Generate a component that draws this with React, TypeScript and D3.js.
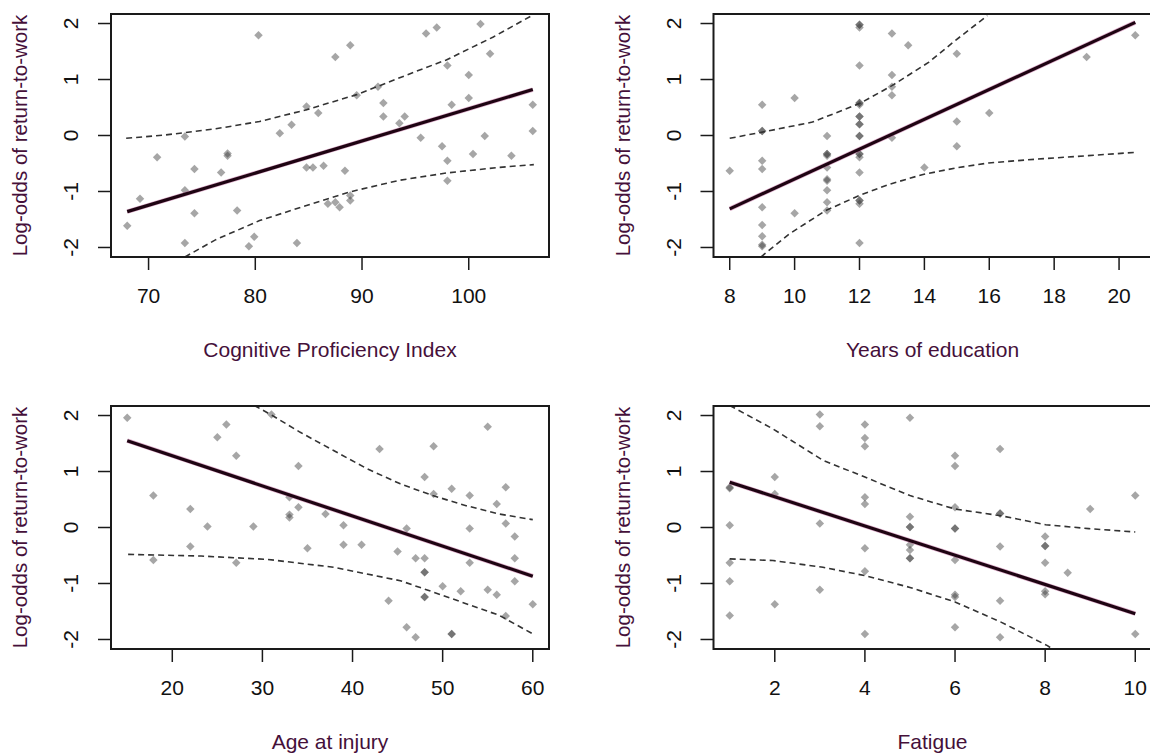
import React from 'react';
import * as d3 from 'd3';

const W = 1150;
const H = 755;
const PW = 438;
const PH = 243;
const yDomain = [-2.17, 2.17];
const yTicks = [-2, -1, 0, 1, 2];
const yTitle = 'Log-odds of return-to-work';

// panel 1: Cognitive Proficiency Index
const cpiTicks = [70, 80, 90, 100];
const cpiX = [68, 69.2, 70.8, 73.4, 73.4, 73.4, 74.3, 74.3, 76.8, 77.4, 77.4, 78.3, 80.3, 79.4, 79.9, 82.3, 83.4, 83.9,
  84.8, 84.8, 85.4, 85.9, 86.4, 86.8, 87.5, 87.9, 87.5, 88.4, 88.9, 88.9, 88.9, 89.5, 91.5, 92, 92, 93.5, 94, 95.5,
  96, 97, 97.5, 98, 98, 98, 98.4, 100, 100, 100.4, 101.1, 101.5, 102, 104, 106, 106];
const cpiY = [-1.61, -1.13, -0.39, -0.02, -0.98, -1.92, -0.6, -1.39, -0.66, -0.32, -0.36, -1.34, 1.79, -1.98, -1.81, 0.04, 0.19, -1.92,
  0.52, -0.57, -0.57, 0.4, -0.54, -1.22, -1.19, -1.28, 1.4, -0.63, 1.61, -1.16, -1.07, 0.72, 0.87, 0.58, 0.34, 0.22, 0.34, -0.04,
  1.82, 1.93, -0.19, 1.25, -0.45, -0.81, 0.55, 1.08, 0.67, -0.33, 1.99, -0.01, 1.46, -0.36, 0.55, 0.08];
const cpiFit = [[68, -1.36], [106, 0.82]];
const cpiUpper = [[67.9, -0.05], [71.6, 0.01], [76.3, 0.12], [80.4, 0.25], [84.8, 0.46], [89.5, 0.73], [95.4, 1.17],
  [97.9, 1.35], [102.3, 1.76], [105.9, 2.14]];
const cpiLower = [[73.4, -2.17], [76.3, -1.86], [80.4, -1.52], [84.8, -1.25], [88.8, -1.01], [93.5, -0.8], [97.9, -0.67],
  [102.8, -0.57], [106.1, -0.52]];

// panel 2: Years of education
const eduTicks = [8, 10, 12, 14, 16, 18, 20];
const eduX = [8, 9, 9, 9, 9, 9, 9, 9, 9, 9, 9, 10, 10, 11, 11, 11, 11, 11, 11, 11, 11, 11, 11,
  12, 12, 12, 12, 12, 12, 12, 12, 12, 12, 12, 12, 12, 12, 12, 12, 12, 12, 12, 12, 12,
  13, 13, 13, 13, 13, 13.5, 14, 15, 15, 15, 16, 19, 20.5];
const eduY = [-0.63, 0.55, 0.08, 0.08, -0.45, -0.6, -1.28, -1.6, -1.8, -1.95, -1.98, 0.67, -1.39, -0.01, -0.33, -0.33, -0.36, -0.57, -0.78, -0.81, -0.98, -1.19, -1.34,
  1.98, 1.93, 1.25, 0.58, 0.58, 0.55, 0.34, 0.34, 0.2, 0.2, -0.01, -0.01, -0.33, -0.33, -0.39, -0.66, -1.16, -1.16, -1.22, -1.92, 1.98,
  1.82, 1.08, 0.87, 0.72, -0.04, 1.61, -0.57, 1.46, 0.25, -0.19, 0.4, 1.4, 1.79];
const eduFit = [[8, -1.31], [20.5, 2.02]];
const eduUpper = [[8, -0.05], [9, 0.06], [10.55, 0.24], [12, 0.57], [13, 0.89], [14.14, 1.31], [14.96, 1.7], [15.94, 2.14]];
const eduLower = [[8.96, -2.17], [9.83, -1.76], [10.96, -1.34], [12, -1.07], [12.9, -0.875], [13.93, -0.7], [14.96, -0.58],
  [15.98, -0.49], [17.5, -0.42], [19.05, -0.36], [20.53, -0.3]];

// panel 3: Age at injury
const ageTicks = [20, 30, 40, 50, 60];
const ageX = [15, 17.9, 17.9, 22, 22, 23.9, 25, 26, 27.1, 27.1, 29, 31, 33, 33, 33, 34, 34, 35, 37, 39, 39, 41, 43, 44, 45,
  46, 46, 47, 47, 48, 48, 48, 48, 48, 48, 49, 49, 50, 51, 51, 51, 52, 53, 53, 53, 55, 55, 56, 56, 57, 57, 57, 58, 58, 58, 60];
const ageY = [1.96, 0.57, -0.58, 0.33, -0.34, 0.02, 1.61, 1.84, 1.28, -0.63, 0.02, 2.02, 0.54, 0.23, 0.18, 1.1, 0.36, -0.37, 0.24,
  0.04, -0.31, -0.31, 1.4, -1.31, -0.43, -0.02, -1.78, -0.55, -1.96, 0.9, -0.55, -0.8, -0.8, -1.24, -1.24, 1.45, 0.6, -1.05,
  0.69, -1.9, -1.9, -1.14, 0.57, -0.02, -0.63, 1.8, -1.11, 0.42, -1.2, 0.72, 0.07, -1.58, -0.16, -0.55, -0.96, -1.37];
const ageFit = [[15, 1.55], [60, -0.87]];
const ageUpper = [[29.1, 2.18], [31.1, 2.0], [34.2, 1.7], [37.9, 1.375], [41.6, 1.05], [45.3, 0.78], [48.9, 0.57], [52.6, 0.39],
  [56.3, 0.24], [60, 0.14]];
const ageLower = [[15.1, -0.48], [23.2, -0.51], [30.6, -0.57], [37.9, -0.71], [45.3, -0.95], [48.9, -1.15], [52.6, -1.36],
  [56.3, -1.57], [60, -1.9]];

// panel 4: Fatigue
const fatTicks = [2, 4, 6, 8, 10];
const fatX = [1, 1, 1, 1, 1, 1, 2, 2, 2, 3, 3, 3, 3, 4, 4, 4, 4, 4, 4, 4, 4, 5, 5, 5, 5, 5, 5, 5, 5,
  6, 6, 6, 6, 6, 6, 6, 6, 6, 7, 7, 7, 7, 7, 7, 8, 8, 8, 8, 8, 8, 8.5, 9, 10, 10];
const fatY = [0.7, 0.72, 0.04, -0.63, -0.96, -1.57, 0.9, 0.6, -1.37, 2.02, 1.81, 0.07, -1.11, 1.84, 1.6, 1.45, 0.54, 0.42, -0.37,
  -0.78, -1.9, 1.96, 0.19, 0.01, 0.01, -0.31, -0.4, -0.55, -0.55, 1.28, 1.1, 0.36, -0.02, -0.02, -0.58, -1.2, -1.24, -1.78,
  1.4, 0.25, 0.25, -0.34, -1.31, -1.96, -0.16, -0.33, -0.33, -0.63, -1.14, -1.19, -0.81, 0.33, 0.57, -1.9];
const fatFit = [[1, 0.81], [10, -1.54]];
const fatUpper = [[1, 2.18], [1.96, 1.76], [3.07, 1.2], [4, 0.9], [5, 0.57], [6, 0.33], [7.02, 0.21], [8.01, 0.05], [8.97, -0.02],
  [10, -0.08]];
const fatLower = [[1, -0.56], [1.96, -0.59], [3.07, -0.71], [4, -0.86], [5, -1.07], [6, -1.33], [7.02, -1.69], [8.05, -2.11],
  [8.16, -2.17]];

const FONT = '"Liberation Sans", Arial, sans-serif';
const TITLE_COL = '#45103a';

type P = {
  id: string; left: number; top: number; label: string; xDomain: number[]; xTicks: number[];
  xs: number[]; ys: number[]; fit: number[][]; upper: number[][]; lower: number[][];
};

const Panel = (props: P) => {
  const { id, left, top, label, xDomain, xTicks, xs, ys, fit, upper, lower } = props;
  const x = d3.scaleLinear().domain(xDomain).range([left, left + PW]);
  const y = d3.scaleLinear().domain(yDomain).range([top + PH, top]);
  const line = d3.line<number[]>().x(d => x(d[0])).y(d => y(d[1]));
  const bottom = top + PH;
  const diamond = d3.symbol().type(d3.symbolDiamond2).size(46)();

  return (
    <g>
      <clipPath id={`clip-${id}`}>
        <rect x={left} y={top} width={PW} height={PH} />
      </clipPath>
      <g clipPath={`url(#clip-${id})`}>
        {xs.map((v, i) => (
          <path key={i} d={diamond as string} transform={`translate(${x(v)},${y(ys[i])})`} fill="#3a3a3a" fillOpacity={0.45} />
        ))}
        <path d={line(upper) as string} fill="none" stroke="#333" strokeWidth={1.6} strokeDasharray="6,4" />
        <path d={line(lower) as string} fill="none" stroke="#333" strokeWidth={1.6} strokeDasharray="6,4" />
        <path d={line(fit) as string} fill="none" stroke="#c0609a" strokeOpacity={0.5} strokeWidth={4.5} />
        <path d={line(fit) as string} fill="none" stroke="#1e0412" strokeWidth={3.2} />
      </g>
      <rect x={left} y={top} width={PW} height={PH} fill="none" stroke="#1a1a1a" strokeWidth={2} />
      {/* x axis */}
      {xTicks.map(t => (
        <g key={t}>
          <line x1={x(t)} x2={x(t)} y1={bottom} y2={bottom + 13} stroke="#1a1a1a" strokeWidth={1.5} />
          <text x={x(t)} y={bottom + 46} textAnchor="middle" fontSize={21} fontFamily={FONT} fill="#111">{t}</text>
        </g>
      ))}
      {/* y axis */}
      {yTicks.map(t => (
        <g key={t}>
          <line x1={left - 13} x2={left} y1={y(t)} y2={y(t)} stroke="#1a1a1a" strokeWidth={1.5} />
          <text transform={`translate(${left - 33},${y(t)}) rotate(-90)`} textAnchor="middle" fontSize={21}
            fontFamily={FONT} fill="#111">{t}</text>
        </g>
      ))}
      <text x={left + PW / 2} y={bottom + 100} textAnchor="middle" fontSize={21} fontFamily={FONT} fill={TITLE_COL}>{label}</text>
      <text transform={`translate(${left - 84},${top + PH / 2}) rotate(-90)`} textAnchor="middle" fontSize={20.5}
        fontFamily={FONT} fill={TITLE_COL}>{yTitle}</text>
    </g>
  );
};

export default function App() {
  const L1 = 111, L2 = 713.5, T1 = 14, T2 = 406;
  return (
    <svg width={W} height={H} style={{ position: 'absolute', left: 0, top: 0, background: '#fff' }}>
      <Panel id="cpi" left={L1} top={T1} label="Cognitive Proficiency Index" xDomain={[66.48, 107.52]} xTicks={cpiTicks}
        xs={cpiX} ys={cpiY} fit={cpiFit} upper={cpiUpper} lower={cpiLower} />
      <Panel id="edu" left={L2} top={T1} label="Years of education" xDomain={[7.5, 21]} xTicks={eduTicks}
        xs={eduX} ys={eduY} fit={eduFit} upper={eduUpper} lower={eduLower} />
      <Panel id="age" left={L1} top={T2} label="Age at injury" xDomain={[13.2, 61.8]} xTicks={ageTicks}
        xs={ageX} ys={ageY} fit={ageFit} upper={ageUpper} lower={ageLower} />
      <Panel id="fat" left={L2} top={T2} label="Fatigue" xDomain={[0.64, 10.36]} xTicks={fatTicks}
        xs={fatX} ys={fatY} fit={fatFit} upper={fatUpper} lower={fatLower} />
    </svg>
  );
}
